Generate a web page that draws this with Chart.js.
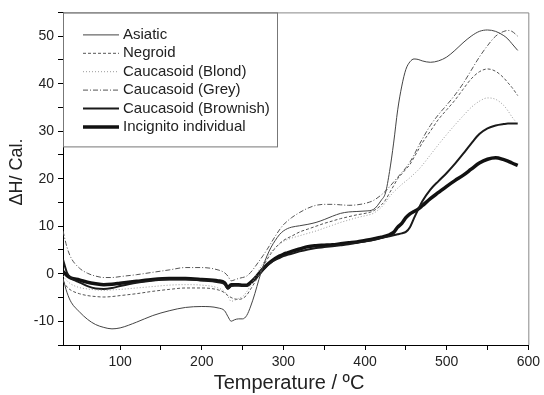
<!DOCTYPE html>
<html>
<head>
<meta charset="utf-8">
<script src="https://cdn.jsdelivr.net/npm/chart.js@4"></script>
<style>
  html, body { margin: 0; padding: 0; background: #fff; }
  #wrap { width: 544px; height: 395px; }
</style>
</head>
<body>
<div id="wrap"><canvas id="dscChart" width="544" height="395"></canvas></div>
<script>
// Temperature (ºC) sample points shared by all curves
var temps = [30, 35, 40, 50, 60, 70, 80, 90, 100, 120, 140, 160, 180, 200, 220, 228, 232, 236, 240, 245,
  250, 255, 260, 265, 270, 275, 280, 285, 290, 295, 300, 305, 310, 320, 330, 340, 350, 360, 370, 380,
  390, 400, 410, 420, 425, 430, 435, 440, 445, 450, 455, 460, 465, 470, 480, 490, 500, 510, 520, 530,
  540, 550, 560, 570, 575, 580, 587];

// ΔH values
var asiatic = [-1, -4, -6, -8, -9.6, -10.7, -11.3, -11.6, -11.4, -10.2, -8.8, -7.8, -7.1, -6.9, -7.2, -7.8, -9, -10, -9.7, -9.5,
  -9.5, -8.8, -6.8, -4.2, -1.2, 1.5, 3.8, 5.6, 7, 8.2, 9, 9.5, 9.8, 10.1, 10.4, 10.8, 11.4, 12.1, 12.7, 13,
  13.1, 13.2, 13.5, 15.5, 17, 21.5, 27.5, 34.5, 39.5, 43, 44.6, 45.2, 45.1, 44.8, 44.5, 44.8, 45.6, 47, 48.6, 50,
  51, 51.3, 51, 50.1, 49.4, 48.4, 47];
var negroid = [-1.5, -2.8, -3.5, -4.2, -4.6, -4.8, -4.9, -4.8, -4.6, -4.2, -3.7, -3.3, -3.0, -3.0, -3.4, -4.0, -4.6, -5.0, -5.3, -5.4,
  -5.2, -4.5, -3.2, -1.8, -0.2, 1.5, 3, 4.3, 5.4, 6.3, 7, 7.5, 7.9, 8.8, 9.4, 10, 10.6, 11.1, 11.6, 12,
  12.4, 12.7, 13.2, 14.5, 15.5, 17, 18.5, 20, 21, 22, 23, 24.5, 26, 27.5, 30, 32.5, 34.5, 36.5, 38.8, 41,
  42.5, 43.1, 42.6, 41.2, 40.2, 39.2, 37.5];
var blond = [-0.5, -1.5, -2.2, -2.9, -3.2, -3.4, -3.5, -3.4, -3.3, -3.0, -2.7, -2.4, -2.3, -2.4, -3.0, -3.8, -4.8, -5.8, -5.6, -5.2,
  -4.8, -3.8, -2.4, -0.8, 0.8, 2.2, 3.5, 4.6, 5.5, 6.2, 6.8, 7.2, 7.5, 8, 8.5, 9, 9.6, 10.2, 10.8, 11.3,
  11.8, 12.2, 12.7, 14, 15, 16.2, 17.2, 18, 18.8, 19.5, 20.2, 21, 21.8, 22.8, 25, 27.2, 29.3, 31.3, 33.2, 35,
  36.3, 37, 36.7, 35.4, 34.3, 33, 31.5];
var grey = [9, 5.5, 3.3, 1.2, 0.1, -0.5, -0.8, -0.8, -0.6, -0.2, 0.3, 0.8, 1.3, 1.3, 0.8, 0.2, -0.5, -1.5, -1.3, -1.0,
  -0.8, -0.5, 0.3, 1.4, 2.6, 3.8, 5.1, 6.5, 7.9, 9.2, 10.3, 11.1, 11.8, 12.9, 13.8, 14.4, 14.6, 14.6, 14.5, 14.4,
  14.5, 14.8, 15.4, 16.6, 17.4, 18.3, 19.3, 20.3, 21.3, 22.3, 23.5, 25, 26.7, 28.3, 31.2, 33.5, 35.5, 37.6, 40, 42.8,
  45.6, 48, 50, 51, 51.2, 51, 50];
var brownish = [3, 0.2, -0.9, -1.8, -2.6, -3.1, -3.2, -3.0, -2.6, -1.9, -1.4, -1.2, -1.2, -1.4, -1.8, -2.2, -3.2, -2.6, -2.5, -2.5,
  -2.6, -2.6, -2.0, -1.2, -0.2, 0.8, 1.7, 2.4, 2.9, 3.3, 3.7, 4.0, 4.2, 4.7, 5.1, 5.4, 5.6, 5.8, 6.0, 6.2,
  6.5, 6.8, 7.1, 7.5, 7.7, 7.9, 8.1, 8.3, 8.5, 8.8, 9.8, 11.7, 13.5, 15.2, 17.7, 19.5, 21.2, 23.1, 25.2, 27.4,
  29.4, 30.6, 31.2, 31.5, 31.6, 31.6, 31.6];
var incognito = [0.5, -0.4, -0.9, -1.3, -1.8, -2.1, -2.3, -2.2, -2.0, -1.6, -1.2, -1.0, -1.0, -1.2, -1.5, -1.9, -2.9, -2.3, -2.3, -2.3,
  -2.4, -2.4, -1.8, -1.0, 0, 1.0, 1.9, 2.6, 3.2, 3.7, 4.1, 4.4, 4.7, 5.2, 5.7, 5.9, 6.0, 6.1, 6.3, 6.5,
  6.7, 7.0, 7.3, 7.7, 7.9, 8.2, 8.7, 9.8, 10.6, 11.8, 12.6, 13.1, 13.6, 14.3, 15.8, 17.1, 18.4, 19.6, 20.7, 22,
  23.3, 24.1, 24.4, 24, 23.7, 23.3, 22.8];

var seriesNames = ['Asiatic', 'Negroid', 'Caucasoid (Blond)', 'Caucasoid (Grey)', 'Caucasoid (Brownish)', 'Incignito individual'];

// tick positions
var xTicks = [50, 100, 150, 200, 250, 300, 350, 400, 450, 500, 550, 600];
var yTicks = [-15, -10, -5, 0, 5, 10, 15, 20, 25, 30, 35, 40, 45, 50, 55];

function points(vals) {
  return temps.map(function (t, i) { return { x: t, y: vals[i] }; });
}

function line(label, vals, color, width, dash) {
  return {
    label: label,
    data: points(vals),
    borderColor: color,
    borderWidth: width,
    borderDash: dash,
    pointRadius: 0,
    fill: false,
    tension: 0.4,
    cubicInterpolationMode: 'monotone'
  };
}

var datasets = [
  line(seriesNames[0], asiatic, '#444', 1, []),
  line(seriesNames[1], negroid, '#555', 1, [3, 2]),
  line(seriesNames[2], blond, '#9a9a9a', 1, [1, 2]),
  line(seriesNames[3], grey, '#555', 1, [5, 2, 1, 2]),
  line(seriesNames[4], brownish, '#1a1a1a', 2, []),
  line(seriesNames[5], incognito, '#111', 3.5, [])
];

// frame on top/right, axis titles and the in-plot legend
var decorations = {
  id: 'decorations',
  afterDraw: function (chart) {
    var ctx = chart.ctx, a = chart.chartArea;
    ctx.save();
    ctx.strokeStyle = '#888';
    ctx.lineWidth = 1;
    ctx.setLineDash([]);
    ctx.beginPath();
    ctx.moveTo(a.left, a.top + 0.5);
    ctx.lineTo(a.right + 0.5, a.top + 0.5);
    ctx.lineTo(a.right + 0.5, a.bottom);
    ctx.stroke();

    // legend box
    ctx.strokeStyle = '#777';
    ctx.strokeRect(a.left + 0.5, a.top + 0.5, 214, 134);
    ctx.font = '15px "Liberation Sans", Arial, sans-serif';
    ctx.fillStyle = '#222';
    ctx.textBaseline = 'middle';
    chart.data.datasets.forEach(function (ds, i) {
      var y = a.top + 22.5 + i * 18.4;
      ctx.strokeStyle = ds.borderColor;
      ctx.lineWidth = ds.borderWidth;
      ctx.setLineDash(ds.borderDash);
      ctx.beginPath();
      ctx.moveTo(a.left + 20, y);
      ctx.lineTo(a.left + 56, y);
      ctx.stroke();
      ctx.setLineDash([]);
      ctx.fillText(ds.label, a.left + 60, y);
    });

    // axis titles
    ctx.fillStyle = '#222';
    ctx.textAlign = 'center';
    ctx.font = '20px "Liberation Sans", Arial, sans-serif';
    ctx.fillText('Temperature / ºC', 289, 383);
    ctx.translate(17.5, 172);
    ctx.rotate(-Math.PI / 2);
    ctx.font = '18px "Liberation Sans", Arial, sans-serif';
    ctx.fillText('ΔH/ Cal.', 0, 0);
    ctx.restore();
  }
};

var ctx = document.getElementById('dscChart').getContext('2d');
var chart = new Chart(ctx, {
  type: 'line',
  data: { datasets: datasets },
  plugins: [decorations],
  options: {
    responsive: false,
    animation: false,
    layout: { padding: { left: 0, right: 15, top: 12, bottom: 0 } },
    plugins: { legend: { display: false }, tooltip: { enabled: false } },
    scales: {
      x: {
        type: 'linear',
        min: 30,
        max: 600,
        afterBuildTicks: function (s) { s.ticks = xTicks.map(function (v) { return { value: v }; }); },
        afterFit: function (s) { s.height = 50; },
        ticks: {
          autoSkip: false,
          maxRotation: 0,
          padding: 4,
          color: '#222',
          font: { family: '"Liberation Sans", Arial, sans-serif', size: 14 },
          callback: function (v) { return v % 100 === 0 ? v : ''; }
        },
        grid: { drawOnChartArea: false, drawTicks: true, tickLength: 5, tickColor: '#000' },
        border: { color: '#000', width: 1 }
      },
      y: {
        min: -15,
        max: 55,
        afterBuildTicks: function (s) { s.ticks = yTicks.map(function (v) { return { value: v }; }); },
        afterFit: function (s) { s.width = 63; },
        ticks: {
          autoSkip: false,
          padding: 4,
          color: '#222',
          font: { family: '"Liberation Sans", Arial, sans-serif', size: 14 },
          callback: function (v) { return v % 10 === 0 ? v : ''; }
        },
        grid: { drawOnChartArea: false, drawTicks: true, tickLength: 5, tickColor: '#000' },
        border: { color: '#000', width: 1 }
      }
    }
  }
});
</script>
</body>
</html>
